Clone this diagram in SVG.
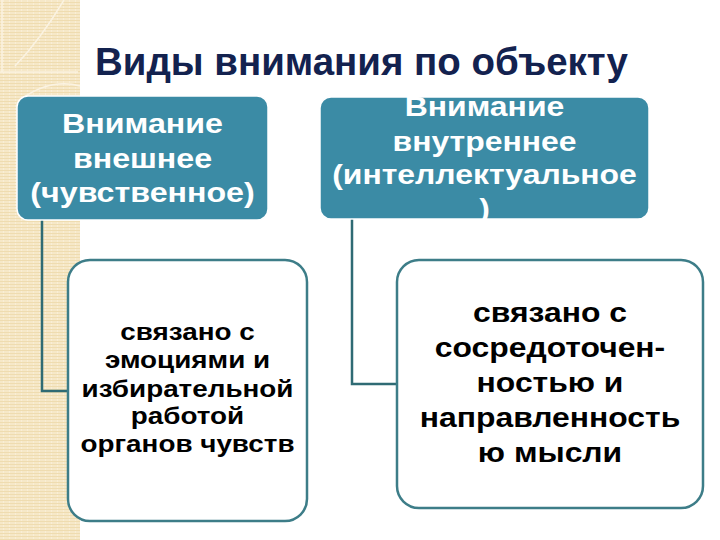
<svg xmlns="http://www.w3.org/2000/svg" width="720" height="540" viewBox="0 0 720 540">
  <defs>
    <pattern id="paper" width="6" height="3" patternUnits="userSpaceOnUse">
      <rect width="6" height="3" fill="#f6e8c8"/>
      <rect y="2" width="6" height="1" fill="#efdcb0"/>
      <rect x="3" y="0" width="1" height="2" fill="#f9eed6"/>
    </pattern>
  </defs>
  <style>
    .head { fill: #3b8ba5; stroke: #ffffff; stroke-width: 1.5; }
    .headtxt { font-family: "Liberation Sans", Arial, sans-serif; font-weight: bold; font-size: 28px; fill: #ffffff; text-anchor: middle; }
    .card { fill: #ffffff; stroke: #3d7d88; stroke-width: 2.5; }
    .cardtxt { font-family: "Liberation Sans", Arial, sans-serif; font-weight: bold; fill: #000000; text-anchor: middle; }
    .conn { fill: none; stroke: #2f6b74; stroke-width: 2.5; }
  </style>
  <rect width="720" height="540" fill="#ffffff"/>
  <rect x="0" y="0" width="80" height="540" fill="url(#paper)"/>
  <g fill="none" stroke="#fbf3e2" stroke-width="1.5">
    <path d="M15 66 Q40 40 64 0"/>
    <path d="M0 72 H78"/>
    <path d="M20 100 Q50 78 80 86"/>
    <path d="M2 0 V72"/>
  </g>
  <text x="95" y="75" font-family="'Liberation Sans', Arial, sans-serif" font-weight="bold" font-size="38" fill="#13224f" textLength="533" lengthAdjust="spacingAndGlyphs">Виды внимания по объекту</text>

  <g id="connectors">
    <path class="conn" d="M42 220 V391 H68"/>
    <path class="conn" d="M352 219 V384 H397"/>
  </g>

  <g id="head-external">
    <rect class="head" x="17" y="96" width="251" height="124" rx="11"/>
    <g class="headtxt" transform="translate(142.5 0) scale(1.15 1)">
      <text x="0" y="133">Внимание</text>
      <text x="0" y="168">внешнее</text>
      <text x="0" y="202">(чувственное)</text>
    </g>
  </g>

  <g id="head-internal">
    <rect class="head" x="320" y="97" width="329" height="122" rx="11"/>
    <g class="headtxt" transform="translate(484.5 0) scale(1.14 1)">
      <text x="0" y="116">Внимание</text>
      <text x="0" y="151">внутреннее</text>
      <text x="0" y="184">(интеллектуальное</text>
      <text x="0" y="218">)</text>
    </g>
  </g>

  <g id="card-external">
    <rect class="card" x="68" y="260" width="239" height="261" rx="22"/>
    <g class="cardtxt" font-size="24" transform="translate(187.5 0) scale(1.16 1)">
      <text x="0" y="340">связано с</text>
      <text x="0" y="368">эмоциями и</text>
      <text x="0" y="397">избирательной</text>
      <text x="0" y="424">работой</text>
      <text x="0" y="452">органов чувств</text>
    </g>
  </g>

  <g id="card-internal">
    <rect class="card" x="397" y="260" width="306" height="248" rx="22"/>
    <g class="cardtxt" font-size="27" transform="translate(550 0) scale(1.18 1)">
      <text x="0" y="322">связано с</text>
      <text x="0" y="357">сосредоточен-</text>
      <text x="0" y="392">ностью и</text>
      <text x="0" y="427">направленность</text>
      <text x="0" y="462">ю мысли</text>
    </g>
  </g>
</svg>
